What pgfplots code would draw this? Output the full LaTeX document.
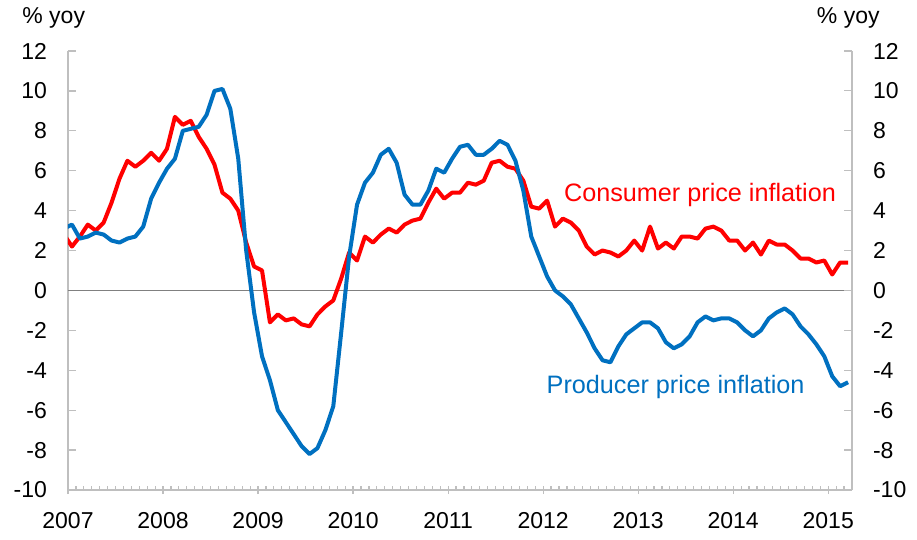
\documentclass[border=0pt]{standalone}
\usepackage{fontspec}
\setmainfont{Liberation Sans}
\usepackage{pgfplots}
\usepackage{pgfplotstable}
\pgfplotsset{compat=1.18}

\definecolor{cpired}{RGB}{255,0,0}
\definecolor{ppiblue}{RGB}{0,112,192}
\definecolor{axgray}{RGB}{191,191,191}

% month index (0 = Jan 2007), CPI and PPI in % yoy
\pgfplotstableread{
m cpi ppi
-1 2.8 3.1
0 2.2 3.3
1 2.7 2.6
2 3.3 2.7
3 3.0 2.9
4 3.4 2.8
5 4.4 2.5
6 5.6 2.4
7 6.5 2.6
8 6.2 2.7
9 6.5 3.2
10 6.9 4.6
11 6.5 5.4
12 7.1 6.1
13 8.7 6.6
14 8.3 8.0
15 8.5 8.1
16 7.7 8.2
17 7.1 8.8
18 6.3 10.0
19 4.9 10.1
20 4.6 9.1
21 4.0 6.6
22 2.4 2.0
23 1.2 -1.1
24 1.0 -3.3
25 -1.6 -4.5
26 -1.2 -6.0
27 -1.5 -6.6
28 -1.4 -7.2
29 -1.7 -7.8
30 -1.8 -8.2
31 -1.2 -7.9
32 -0.8 -7.0
33 -0.5 -5.8
34 0.6 -2.1
35 1.9 1.7
36 1.5 4.3
37 2.7 5.4
38 2.4 5.9
39 2.8 6.8
40 3.1 7.1
41 2.9 6.4
42 3.3 4.8
43 3.5 4.3
44 3.6 4.3
45 4.4 5.0
46 5.1 6.1
47 4.6 5.9
48 4.9 6.6
49 4.9 7.2
50 5.4 7.3
51 5.3 6.8
52 5.5 6.8
53 6.4 7.1
54 6.5 7.5
55 6.2 7.3
56 6.1 6.5
57 5.5 5.0
58 4.2 2.7
59 4.1 1.7
60 4.5 0.7
61 3.2 0.0
62 3.6 -0.3
63 3.4 -0.7
64 3.0 -1.4
65 2.2 -2.1
66 1.8 -2.9
67 2.0 -3.5
68 1.9 -3.6
69 1.7 -2.8
70 2.0 -2.2
71 2.5 -1.9
72 2.0 -1.6
73 3.2 -1.6
74 2.1 -1.9
75 2.4 -2.6
76 2.1 -2.9
77 2.7 -2.7
78 2.7 -2.3
79 2.6 -1.6
80 3.1 -1.3
81 3.2 -1.5
82 3.0 -1.4
83 2.5 -1.4
84 2.5 -1.6
85 2.0 -2.0
86 2.4 -2.3
87 1.8 -2.0
88 2.5 -1.4
89 2.3 -1.1
90 2.3 -0.9
91 2.0 -1.2
92 1.6 -1.8
93 1.6 -2.2
94 1.4 -2.7
95 1.5 -3.3
96 0.8 -4.3
97 1.4 -4.8
98 1.4 -4.6
}\inflation

\begin{document}
\begin{tikzpicture}[font=\fontsize{11.5}{13}\selectfont]
\pgfplotsset{
  chartbase/.style={
    scale only axis, width=392pt, height=219.5pt,
    xmin=0, xmax=99, ymin=-10, ymax=12,
    ytick={-10,-8,...,12},
    axis line style={axgray, line width=0.6pt},
    tick style={axgray, line width=0.6pt},
    major tick length=4pt, minor tick length=2pt,
    tick label style={font=\fontsize{11.5}{13}\selectfont},
    /pgf/number format/assume math mode=true,
  }
}
\begin{axis}[chartbase, name=main,
  axis x line*=bottom, axis y line*=left,
  xtick={0,12,24,36,48,60,72,84,96},
  xticklabels={2007,2008,2009,2010,2011,2012,2013,2014,2015},
  minor xtick={0,1,...,99},
  xtick align=center, ytick align=inside,
  minor x tick style={yshift=1pt},
  yticklabel style={xshift=-7pt},
  xticklabel style={yshift=-5.5pt},
  line join=round,
]
\addplot[gray, line width=0.6pt, forget plot] coordinates {(0,0) (99,0)};
\addplot[cpired, line width=2pt] table[x expr=\thisrow{m}+0.5, y=cpi] {\inflation};
\addplot[ppiblue, line width=2pt] table[x expr=\thisrow{m}+0.5, y=ppi] {\inflation};
\node[anchor=west, inner sep=0pt, text=cpired, font=\fontsize{12.6}{14}\selectfont] at (axis cs:62.6,4.8) {Consumer price inflation};
\node[anchor=west, inner sep=0pt, text=ppiblue, font=\fontsize{12.6}{14}\selectfont] at (axis cs:60.4,-4.85) {Producer price inflation};
\end{axis}
\begin{axis}[chartbase,
  axis x line=none, axis y line*=right,
  ytick align=inside,
  yticklabel style={xshift=7pt},
]
\end{axis}
\node[anchor=west, inner sep=0pt] at ([xshift=-23pt,yshift=16.5pt]main.north west) {\% yoy};
\node[anchor=east, inner sep=0pt] at ([xshift=14pt,yshift=16.5pt]main.north east) {\% yoy};
\pgfresetboundingbox
\path[use as bounding box] ([xshift=-34pt,yshift=-24.5pt]main.south west) rectangle ([xshift=32.5pt,yshift=25.5pt]main.north east);
\end{tikzpicture}
\end{document}
